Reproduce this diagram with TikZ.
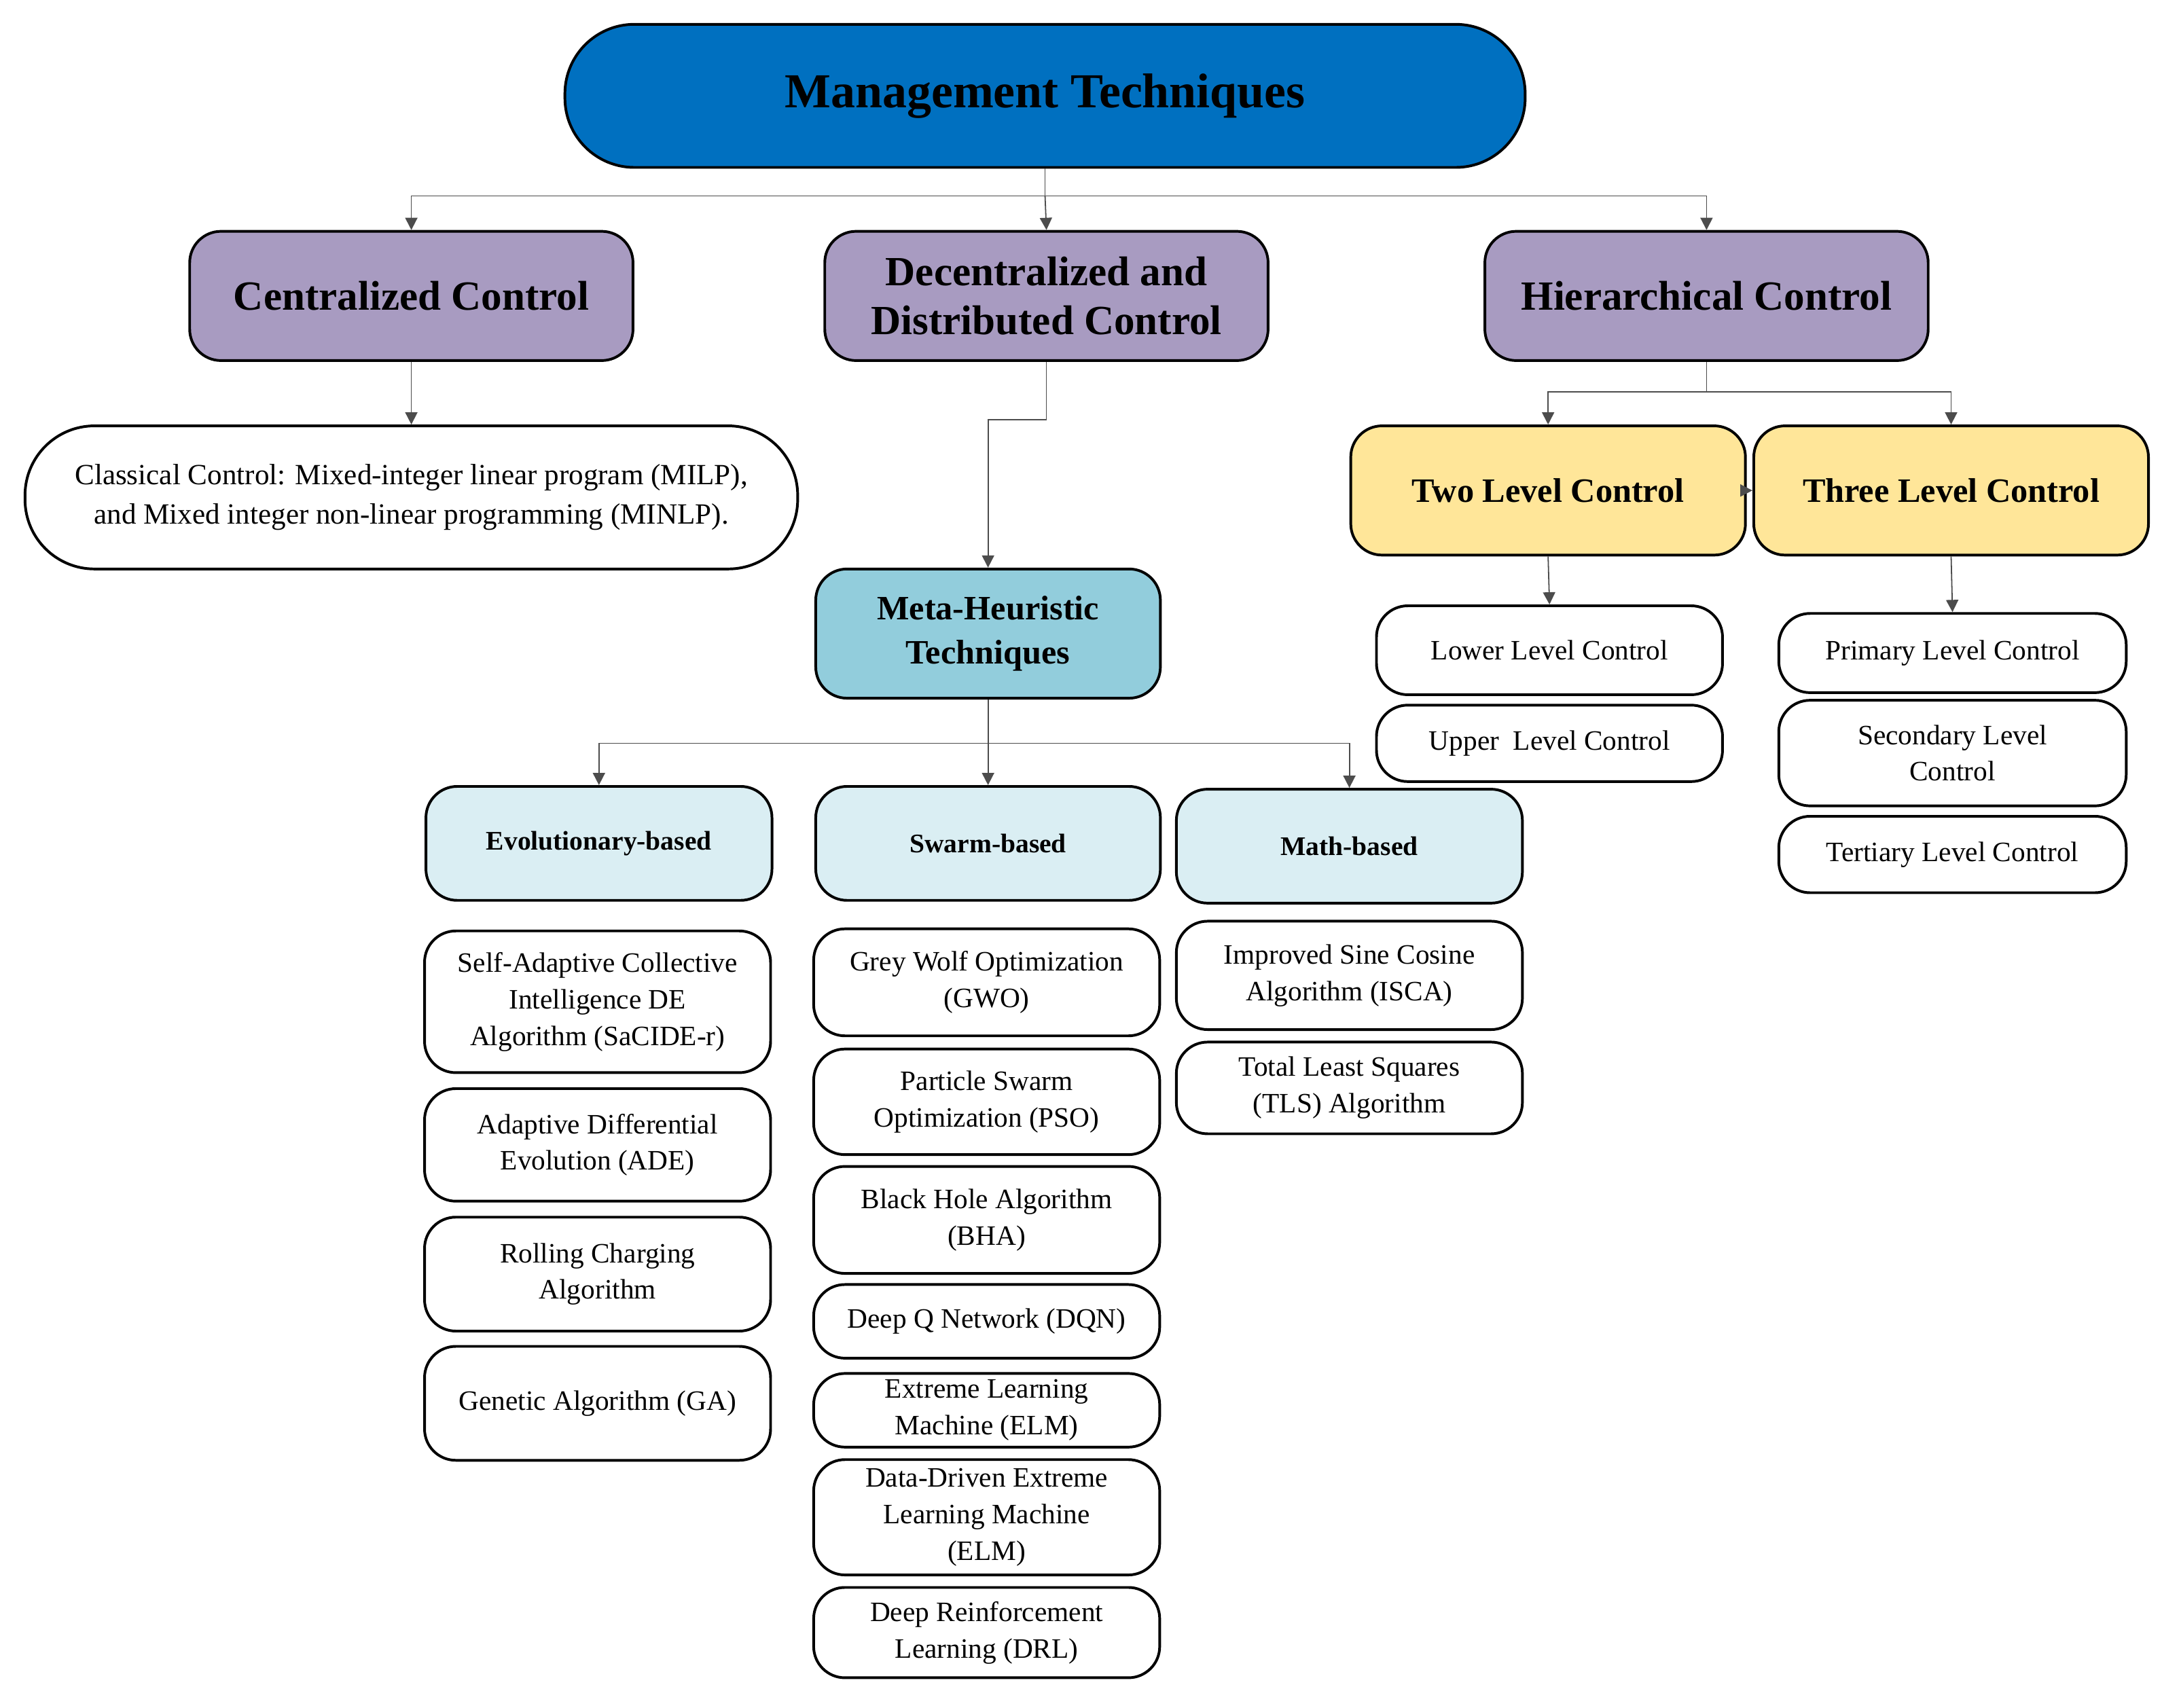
\documentclass[tikz,border=0pt]{standalone}
\usepackage{fontspec}
\setmainfont{Liberation Serif}
\usetikzlibrary{arrows.meta}
\definecolor{topblue}{HTML}{0070C0}
\definecolor{purp}{HTML}{A89BC1}
\definecolor{meta}{HTML}{92CDDC}
\definecolor{yel}{HTML}{FFE699}
\definecolor{lblue}{HTML}{DAEEF3}
\begin{document}
\begin{tikzpicture}[x=0.02cm,y=-0.02cm,
 bx/.style 2 args={draw=black,line width=1.1pt,align=center,inner sep=0pt,minimum width=#1*0.02cm,minimum height=#2*0.02cm,rounded corners=0.45cm},
 lvl/.style={fill=purp,font=\fontsize{17}{20}\selectfont\bfseries},
 item/.style={font=\fontsize{11.5}{15}\selectfont},
 sub/.style={fill=lblue,font=\fontsize{11}{13}\selectfont\bfseries},
 con/.style={draw=black!70,line width=0.5pt},
 arr/.style={con,-{Triangle[length=5pt,width=5pt]}}]
\useasboundingbox (0,0) rectangle (1568,1229);
\node[bx={691}{103},rounded corners=1cm,fill=topblue,font=\fontsize{20}{24}\selectfont\bfseries] (top) at (752,69) {Management Techniques};
\node[bx={319}{93},lvl] (cen) at (296,213) {Centralized Control};
\node[bx={319}{93},lvl] (dec) at (753,213) {Decentralized and\\Distributed Control};
\node[bx={319}{93},lvl] (hie) at (1228,213) {Hierarchical Control};
\node[bx={556}{103},rounded corners=1cm,font=\fontsize{12}{16}\selectfont] (cla) at (296,358) {Classical Control: Mixed-integer linear program (MILP),\\and Mixed integer non-linear programming (MINLP).};
\node[bx={248}{93},fill=meta,font=\fontsize{14}{18}\selectfont\bfseries] (met) at (711,456) {Meta-Heuristic\\Techniques};
\node[bx={284}{93},fill=yel,font=\fontsize{14}{18}\selectfont\bfseries] (two) at (1114,353) {Two Level Control};
\node[bx={284}{93},fill=yel,font=\fontsize{14}{18}\selectfont\bfseries] (thr) at (1404,353) {Three Level Control};
\node[bx={249}{64},item] (low) at (1115,468) {Lower Level Control};
\node[bx={249}{55},item] (upp) at (1115,535) {Upper\ \ Level Control};
\node[bx={250}{57},item] (pri) at (1405,470) {Primary Level Control};
\node[bx={250}{76},item] (sec) at (1405,542) {Secondary Level\\Control};
\node[bx={250}{55},item] (ter) at (1405,615) {Tertiary Level Control};
\node[bx={249}{82},sub] (evo) at (431,607) {Evolutionary-based};
\node[bx={248}{82},sub] (swa) at (711,607) {Swarm-based};
\node[bx={249}{82},sub] (mat) at (971,609) {Math-based};
\node[bx={249}{102},item] (e1) at (430,721) {Self-Adaptive Collective\\Intelligence DE\\Algorithm (SaCIDE-r)};
\node[bx={249}{81},item] (e2) at (430,824) {Adaptive Differential\\Evolution (ADE)};
\node[bx={249}{82},item] (e3) at (430,917) {Rolling Charging\\Algorithm};
\node[bx={249}{82},item] (e4) at (430,1010) {Genetic Algorithm (GA)};
\node[bx={249}{77},item] (s1) at (710,707) {Grey Wolf Optimization\\(GWO)};
\node[bx={249}{76},item] (s2) at (710,793) {Particle Swarm\\Optimization (PSO)};
\node[bx={249}{77},item] (s3) at (710,878) {Black Hole Algorithm\\(BHA)};
\node[bx={249}{53},item] (s4) at (710,951) {Deep Q Network (DQN)};
\node[bx={249}{53},item] (s5) at (710,1015) {Extreme Learning\\Machine (ELM)};
\node[bx={249}{83},item] (s6) at (710,1092) {Data-Driven Extreme\\Learning Machine\\(ELM)};
\node[bx={249}{65},item] (s7) at (710,1175) {Deep Reinforcement\\Learning (DRL)};
\node[bx={249}{78},item] (m1) at (971,702) {Improved Sine Cosine\\Algorithm (ISCA)};
\node[bx={249}{66},item] (m2) at (971,783) {Total Least Squares\\(TLS) Algorithm};
% connectors
\coordinate (j1) at (752,141);
\draw[con] (top.south) -- (j1);
\draw[arr] (j1) -| (cen.north);
\draw[arr] (j1) -- (dec.north);
\draw[arr] (j1) -| (hie.north);
\draw[arr] (cen.south) -- (cla.north);
\draw[arr] (dec.south) |- (711,302) -- (met.north);
\coordinate (j2) at (1228,282);
\draw[con] (hie.south) -- (j2);
\draw[arr] (j2) -| (two.north);
\draw[arr] (j2) -| (thr.north);
\draw[arr] (two.east) -- (thr.west);
\draw[arr] (two.south) -- (low.north);
\draw[arr] (thr.south) -- (pri.north);
\coordinate (j3) at (711,535);
\draw[con] (met.south) -- (j3);
\draw[arr] (j3) -| (evo.north);
\draw[arr] (j3) -- (swa.north);
\draw[arr] (j3) -| (mat.north);
\end{tikzpicture}
\end{document}
